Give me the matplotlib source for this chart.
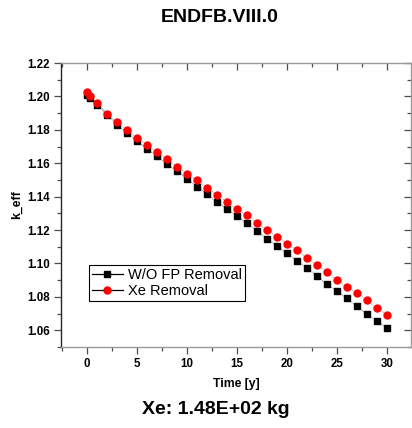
import matplotlib
matplotlib.use("Agg")
import matplotlib.pyplot as plt
from matplotlib.lines import Line2D
from matplotlib.ticker import MultipleLocator, FormatStrFormatter
from matplotlib.font_manager import FontProperties

time_y = [0, 0.3] + list(range(1, 31))
k_wo_fp = [1.2011, 1.1991, 1.1951, 1.1890, 1.1830, 1.1782, 1.1732, 1.1687, 1.1642,
           1.1593, 1.1553, 1.1507, 1.1460, 1.1414, 1.1368, 1.1328, 1.1284, 1.1241,
           1.1195, 1.1149, 1.1105, 1.1061, 1.1016, 1.0972, 1.0926, 1.0876, 1.0836,
           1.0791, 1.0743, 1.0697, 1.0657, 1.0612]
k_xe = [1.2024, 1.2005, 1.1961, 1.1897, 1.1846, 1.1798, 1.1752, 1.1712, 1.1666,
        1.1623, 1.1579, 1.1537, 1.1497, 1.1451, 1.1412, 1.1368, 1.1324, 1.1290,
        1.1241, 1.1201, 1.1161, 1.1119, 1.1079, 1.1032, 1.0990, 1.0950, 1.0900,
        1.0859, 1.0823, 1.0779, 1.0731, 1.0691]
labels = ["W/O FP Removal", "Xe Removal"]
title = "ENDFB.VIII.0"
note = "Xe: 1.48E+02 kg"

W, H = 412, 428
fig = plt.figure(figsize=(W / 100, H / 100), dpi=100)
ax = fig.add_axes([61 / W, 1 - 347 / H, (411 - 61) / W, (347 - 63) / H])

ax.plot(time_y, k_wo_fp, color="0.35", lw=0.6, ls=(0, (1, 1)), marker="s",
        ms=4.4, mfc="black", mec="black", zorder=2)
ax.plot(time_y, k_xe, color="0.55", lw=0.6, ls=(0, (1, 1)), marker="o",
        ms=5.0, mfc="red", mec="red", zorder=3)

ax.set_xlim(-2.6, 32.4)
ax.set_ylim(1.05, 1.22)
ax.xaxis.set_major_locator(MultipleLocator(5))
ax.xaxis.set_minor_locator(MultipleLocator(2.5))
ax.yaxis.set_major_locator(MultipleLocator(0.02))
ax.yaxis.set_minor_locator(MultipleLocator(0.01))
ax.yaxis.set_major_formatter(FormatStrFormatter("%.2f"))

fam = ["Liberation Sans", "DejaVu Sans"]
tickfp = FontProperties(family=fam, weight="bold", size=8.3)
ax.tick_params(which="both", top=True, right=True, direction="out", color="0.3", width=0.9)
ax.tick_params(which="major", length=5, pad=3)
ax.tick_params(which="minor", length=3)
for lab in ax.get_xticklabels() + ax.get_yticklabels():
    lab.set_fontproperties(tickfp)
ax.tick_params(axis="x", which="both", top=True, labeltop=False)
ax.tick_params(axis="y", which="both", right=True, labelright=False)
for t in ax.xaxis.get_major_ticks() + ax.xaxis.get_minor_ticks():
    t.tick2line.set_marker(3)
for t in ax.yaxis.get_major_ticks() + ax.yaxis.get_minor_ticks():
    t.tick2line.set_marker(0)

ax.spines["left"].set_color("0.15")
for s in ["top", "right", "bottom"]:
    ax.spines[s].set_color("0.6")
for s in ax.spines.values():
    s.set_linewidth(1.0)

ax.set_xlabel("Time [y]", fontsize=8.8, fontweight="bold", family=fam, labelpad=6)
ax.set_ylabel("k_eff", fontsize=8.8, fontweight="bold", family=fam, labelpad=3)

handles = [Line2D([], [], color="black", lw=0.9, marker="s", ms=4.4, mfc="black", mec="black"),
           Line2D([], [], color="black", lw=0.9, marker="o", ms=5.0, mfc="red", mec="red")]
leg = ax.legend(handles, labels, loc="upper left",
                bbox_to_anchor=((89 - 61) / 350, (347 - 265) / 284),
                prop=dict(family=fam, size=10.5),
                frameon=True, fancybox=False, edgecolor="black", framealpha=1,
                borderpad=0.2, handlelength=2.1, handletextpad=0.35, labelspacing=0.15,
                borderaxespad=0)
leg.get_frame().set_linewidth(0.8)

fig.text(220 / W, 1 - 18 / H, title, ha="center", va="center", fontsize=14, fontweight="bold",
         family=fam)
fig.text(216 / W, 1 - 410 / H, note, ha="center", va="center", fontsize=14, fontweight="bold",
         family=fam)

fig.savefig("out.png", dpi=100)
